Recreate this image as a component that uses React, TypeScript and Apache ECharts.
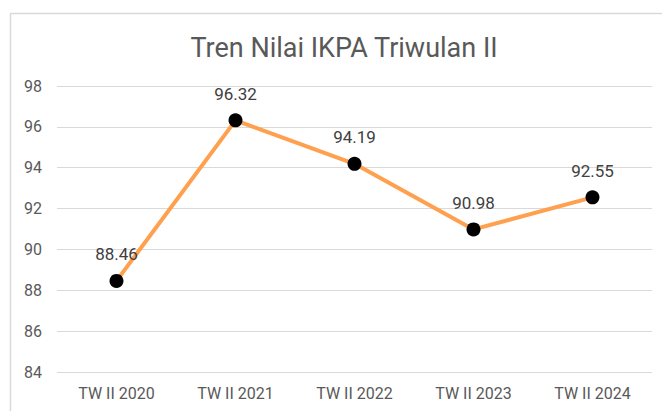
import React, { useEffect, useRef } from "react";
import * as echarts from "echarts";

const categories = ["TW II 2020", "TW II 2021", "TW II 2022", "TW II 2023", "TW II 2024"];
const values = [88.46, 96.32, 94.19, 90.98, 92.55];
const chartTitle = "Tren Nilai IKPA Triwulan II";

export default function App() {
  const ref = useRef<HTMLDivElement>(null);
  useEffect(() => {
    if (!ref.current) return;
    const chart = echarts.init(ref.current, undefined, { renderer: "svg" });
    chart.setOption({
      animation: false,
      textStyle: { fontFamily: "Roboto" },
      title: {
        text: chartTitle,
        left: 339,
        textAlign: "center",
        top: 29,
        textStyle: { fontFamily: "Roboto", fontSize: 27, fontWeight: "normal", color: "#595959" },
      },
      graphic: [
        {
          type: "rect",
          shape: { x: 10.5, y: 13.5, width: 700, height: 450 },
          style: { fill: "none", stroke: "#D9D9D9", lineWidth: 1.5 },
          silent: true,
        },
      ],
      grid: { left: 57, right: 10, top: 86, bottom: 39, containLabel: false },
      xAxis: {
        type: "category",
        data: categories,
        boundaryGap: true,
        axisLine: { show: false },
        axisTick: { show: false },
        axisLabel: { color: "#595959", fontSize: 16, fontFamily: "Roboto", margin: 13 },
      },
      yAxis: {
        type: "value",
        min: 84,
        max: 98,
        interval: 2,
        axisLine: { show: false },
        axisTick: { show: false },
        axisLabel: { color: "#595959", fontSize: 16, fontFamily: "Roboto", margin: 15 },
        splitLine: { lineStyle: { color: "#D9D9D9", width: 1 } },
      },
      series: [
        {
          type: "line",
          data: values,
          symbol: "circle",
          symbolSize: 14,
          itemStyle: { color: "#000000" },
          lineStyle: { color: "#FFA04F", width: 4 },
          label: {
            show: true,
            position: "top",
            distance: 11,
            color: "#404040",
            fontSize: 17,
            fontFamily: "Roboto",
            formatter: (p: any) => p.value.toFixed(2),
          },
        },
      ],
    });
    return () => chart.dispose();
  }, []);
  return (
    <div
      ref={ref}
      style={{ position: "fixed", left: 0, top: 0, width: 662, height: 411, background: "#fff" }}
    />
  );
}
